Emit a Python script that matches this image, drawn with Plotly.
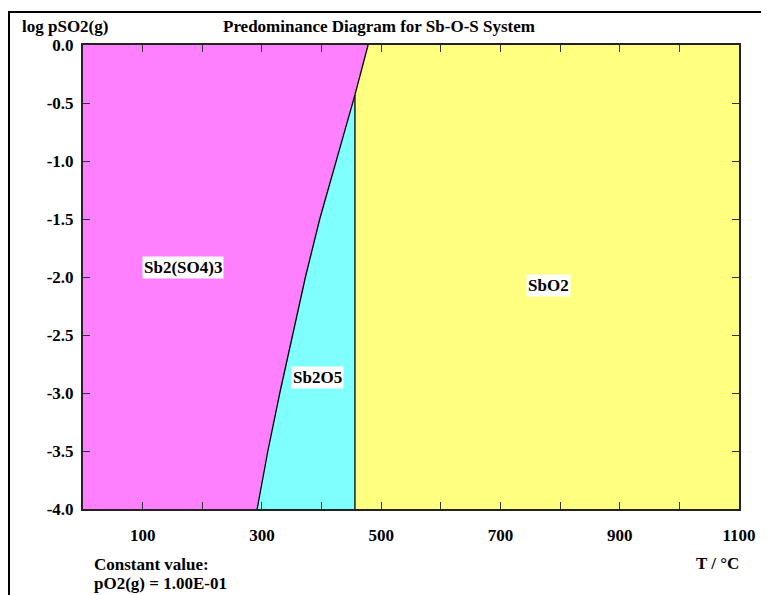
import plotly.graph_objects as go

# ---- data ----
# boundary Sb2(SO4)3 / Sb2O5 (T in °C, log pSO2)
b1_T = [292, 310, 330, 351, 373, 397, 424, 452, 456]
b1_logp = [-4.0, -3.5, -3.0, -2.5, -2.0, -1.5, -1.0, -0.5, -0.43]
# boundary Sb2(SO4)3 / SbO2
b2_T = [456, 478]
b2_logp = [-0.43, 0.0]
# boundary Sb2O5 / SbO2 (vertical)
b3_T = [456, 456]
b3_logp = [-4.0, -0.43]

x_range = [0, 1100]
y_range = [-4.0, 0.0]

region_names = ["Sb2(SO4)3", "Sb2O5", "SbO2"]
region_colors = ["#FF80FF", "#80FFFF", "#FFFF80"]
label_T = [168, 394, 780]
label_logp = [-1.92, -2.87, -2.07]

x_tick_vals = [100, 200, 300, 400, 500, 600, 700, 800, 900, 1000, 1100]
x_tick_text = ["100", "", "300", "", "500", "", "700", "", "900", "", "1100"]
y_tick_vals = [0.0, -0.5, -1.0, -1.5, -2.0, -2.5, -3.0, -3.5, -4.0]
y_tick_text = ["0.0", "-0.5", "-1.0", "-1.5", "-2.0", "-2.5", "-3.0", "-3.5", "-4.0"]

title_text = "Predominance Diagram for Sb-O-S System"
y_title = "log pSO2(g)"
x_title = "T / °C"
const_lines = ["Constant value:", "pO2(g) = 1.00E-01"]

FONT = "Liberation Serif"

# ---- region polygons built from boundary arrays ----
poly_a_x = [x_range[0]] + b1_T + b2_T[1:] + [x_range[0], x_range[0]]
poly_a_y = [y_range[0]] + b1_logp + b2_logp[1:] + [y_range[1], y_range[0]]

poly_b_x = b1_T + [b3_T[0], b3_T[0], b1_T[0]]
poly_b_y = b1_logp + [b3_logp[1], b3_logp[0], b1_logp[0]]

poly_c_x = [b3_T[0], x_range[1], x_range[1]] + b2_T[::-1] + [b3_T[0]]
poly_c_y = [y_range[0], y_range[0], y_range[1]] + b2_logp[::-1] + [y_range[0]]

fig = go.Figure()
for px, py, col in [(poly_a_x, poly_a_y, region_colors[0]),
                    (poly_b_x, poly_b_y, region_colors[1]),
                    (poly_c_x, poly_c_y, region_colors[2])]:
    fig.add_trace(go.Scatter(x=px, y=py, fill="toself", fillcolor=col,
                             mode="lines", line=dict(width=0, color=col),
                             hoverinfo="skip", showlegend=False))

for bx, by in [(b1_T, b1_logp), (b2_T, b2_logp), (b3_T, b3_logp)]:
    fig.add_trace(go.Scatter(x=bx, y=by, mode="lines",
                             line=dict(color="black", width=1.3),
                             hoverinfo="skip", showlegend=False))

bold = dict(family=FONT, size=17, color="black", weight="bold")

for name, tx, ty in zip(region_names, label_T, label_logp):
    fig.add_annotation(x=tx, y=ty, text=name, showarrow=False,
                       font=bold, bgcolor="white", borderpad=1)

# the page has an 8px body margin: work in screen px, then offset
OFF = 8
W, H = 769 - OFF, 595 - OFF
L, R, T, B = 83 - OFF, 739 - OFF, 45 - OFF, 509 - OFF
def px2paper_x(px):
    return (px - OFF - L) / (R - L)
def px2paper_y(py):
    return (B - (py - OFF)) / (B - T)

fig.add_annotation(xref="paper", yref="paper", x=px2paper_x(20), y=px2paper_y(26),
                   xanchor="left", yanchor="middle", text=y_title, showarrow=False,
                   font=bold)
fig.add_annotation(xref="paper", yref="paper", x=px2paper_x(379), y=px2paper_y(26),
                   xanchor="center", yanchor="middle", text=title_text, showarrow=False,
                   font=bold)
fig.add_annotation(xref="paper", yref="paper", x=px2paper_x(741), y=px2paper_y(563),
                   xanchor="right", yanchor="middle", text=x_title, showarrow=False,
                   font=bold)
fig.add_annotation(xref="paper", yref="paper", x=px2paper_x(92), y=px2paper_y(564),
                   xanchor="left", yanchor="middle", text=const_lines[0], showarrow=False,
                   font=bold)
fig.add_annotation(xref="paper", yref="paper", x=px2paper_x(92), y=px2paper_y(583),
                   xanchor="left", yanchor="middle", text=const_lines[1], showarrow=False,
                   font=bold)

# outer frame: only top and left edges are visible in the reference
fig.add_shape(type="line", xref="paper", yref="paper",
              x0=px2paper_x(8), x1=px2paper_x(769), y0=px2paper_y(12), y1=px2paper_y(12),
              line=dict(color="black", width=2), layer="above")
fig.add_shape(type="line", xref="paper", yref="paper",
              x0=px2paper_x(9), x1=px2paper_x(9), y0=px2paper_y(12), y1=px2paper_y(595),
              line=dict(color="black", width=2), layer="above")

fig.update_xaxes(range=x_range, tickmode="array", tickvals=x_tick_vals, ticktext=x_tick_text,
                 ticks="inside", ticklen=7, tickwidth=1, tickcolor="#333",
                 showline=True, linecolor="#222", linewidth=2, mirror="allticks",
                 showgrid=False, zeroline=False, ticklabelstandoff=10,
                 tickfont=bold, automargin=False)
fig.update_yaxes(range=y_range, tickmode="array", tickvals=y_tick_vals, ticktext=y_tick_text,
                 ticks="inside", ticklen=7, tickwidth=1, tickcolor="#333",
                 showline=True, linecolor="#222", linewidth=2, mirror="allticks",
                 showgrid=False, zeroline=False, ticklabelstandoff=4,
                 tickfont=bold, automargin=False)

fig.update_layout(width=W, height=H,
                  margin=dict(l=L, r=W - R, t=T, b=H - B, autoexpand=False),
                  paper_bgcolor="white", plot_bgcolor="white",
                  showlegend=False)

fig.write_html("out.html")
